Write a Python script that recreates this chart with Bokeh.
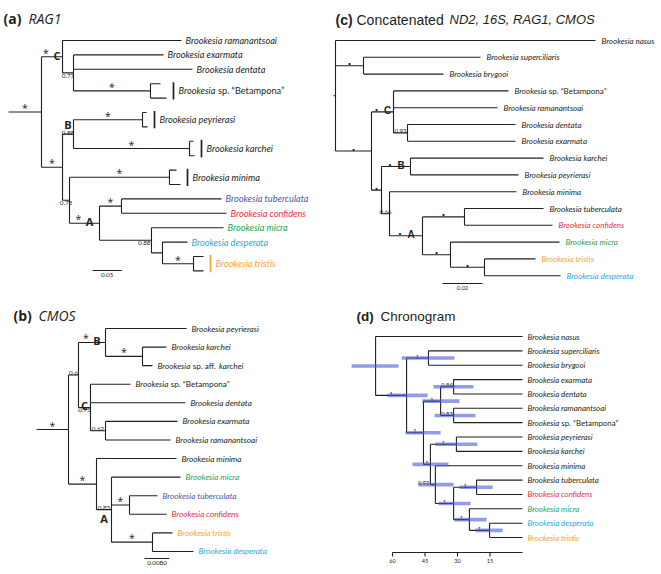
from bokeh.plotting import figure
from bokeh.models import Range1d
from bokeh.layouts import column, row
from bokeh.embed import file_html
from bokeh.resources import INLINE
from bokeh.core.properties import value

# ---------------- colours ----------------
BK = "#231f20"
TUB = "#4d58a6"
CON = "#e4303c"
MIC = "#1f9f58"
DES = "#27a9e1"
TRI = "#f4a33c"
HPD = "#4a5ad8"

TAXON = {
    "ram": "Brookesia ramanantsoai", "exa": "Brookesia exarmata", "den": "Brookesia dentata",
    "bet": "Brookesia|sp. \u201cBetampona\u201d", "pey": "Brookesia peyrierasi", "kar": "Brookesia karchei",
    "aff": "Brookesia|sp. aff.|karchei", "min": "Brookesia minima", "tub": "Brookesia tuberculata",
    "con": "Brookesia confidens", "mic": "Brookesia micra", "des": "Brookesia desperata",
    "tri": "Brookesia tristis", "nas": "Brookesia nasus", "sup": "Brookesia superciliaris",
    "bry": "Brookesia brygooi",
}

# ---------------- (a) RAG1 (substitutions / site) ----------------
A_NODE = ["r", "nC", "ram", "n077", "exa", "den", "nBet", "bet1", "bet2", "nX", "nB", "nPey", "pey1", "pey2",
          "nKar", "kar1", "kar2", "nY", "nMin", "min1", "min2", "nA", "nTC", "tub", "con", "nM", "mic",
          "nDT", "des", "nTri", "tri1", "tri2"]
A_PARENT = [None, "r", "nC", "nC", "n077", "n077", "n077", "nBet", "nBet", "r", "nX", "nB", "nPey", "nPey",
            "nB", "nKar", "nKar", "nX", "nY", "nMin", "nMin", "nY", "nA", "nTC", "nTC", "nA", "nM",
            "nM", "nDT", "nDT", "nTri", "nTri"]
A_DEPTH = [0.0563, 0.0922, 0.2952, 0.1109, 0.2645, 0.3140, 0.2423, 0.2594, 0.2696, 0.0922, 0.1109, 0.2287,
           0.2355, 0.2372, 0.3089, 0.3157, 0.3174, 0.1041, 0.2747, 0.2867, 0.2935, 0.1553, 0.1928, 0.3635,
           0.3720, 0.2440, 0.3669, 0.2628, 0.3055, 0.3157, 0.3328, 0.3328]
A_SUPPORT = {"r": "*", "nC": "*", "n077": "0.77", "nBet": "*", "nX": "*", "nB": "0.88", "nPey": "*",
             "nKar": "*", "nY": "0.78", "nMin": "*", "nA": "*", "nTC": "*", "nM": "0.88", "nTri": "*"}
A_SUPPOS = {"n077": "b", "nY": "b", "nM": "br"}
A_CLADE = {"nC": "C", "nB": "B", "nA": "A"}
A_CLADEPOS = {"nB": "aa"}
A_SCALE = 0.05
A_SCALE_LABEL = "0.05"

# ---------------- (b) CMOS ----------------
B_NODE = ["r", "nBC", "nB", "pey", "nK", "kar", "aff", "nC", "bet", "den", "n062", "exa", "ram", "nE", "min",
          "nA", "mic", "nTC", "tub", "con", "nTD", "tri", "des"]
B_PARENT = [None, "r", "nBC", "nB", "nB", "nK", "nK", "nBC", "nC", "nC", "nC", "n062", "n062", "r", "nE",
            "nE", "nA", "nA", "nTC", "nTC", "nA", "nTD", "nTD"]
B_DEPTH = [0.01024, 0.01344, 0.02208, 0.0480, 0.03392, 0.0416, 0.03712, 0.01728, 0.03008, 0.04768, 0.02208,
           0.04512, 0.04288, 0.0192, 0.0448, 0.0240, 0.04608, 0.02976, 0.03872, 0.0416, 0.03712, 0.04352,
           0.05024]
B_SUPPORT = {"r": "*", "nBC": "0.6", "nB": "*", "nK": "*", "nC": "0.75", "n062": "0.62", "nE": "*",
             "nA": "0.83", "nTC": "*", "nTD": "*"}
B_SUPPOS = {"nC": "b"}
B_CLADE = {"nB": "B", "nC": "C", "nA": "A"}
B_CLADEPOS = {"nA": "b"}
B_SCALE = 0.008
B_SCALE_LABEL = "0.0080"

# ---------------- (c) concatenated ----------------
C_NODE = ["r", "nas", "nSB", "sup", "bry", "nIn", "nC", "bet", "ram", "n093", "den", "exa", "nQ", "nB", "kar",
          "pey", "nR", "min", "nA", "nTC", "tub", "con", "nM", "mic", "nTD", "tri", "des"]
C_PARENT = [None, "r", "r", "nSB", "nSB", "r", "nIn", "nC", "nC", "nC", "n093", "n093", "nIn", "nQ", "nB",
            "nB", "nQ", "nR", "nR", "nA", "nTC", "nTC", "nA", "nM", "nM", "nTD", "nTD"]
C_DEPTH = [0.001, 0.131, 0.015, 0.0735, 0.055, 0.019, 0.030, 0.0875, 0.082, 0.037, 0.091, 0.091, 0.024,
           0.0385, 0.105, 0.0925, 0.028, 0.0915, 0.0445, 0.0655, 0.105, 0.1095, 0.0585, 0.113, 0.0755,
           0.101, 0.1135]
C_SUPPORT = {"nSB": "*", "nIn": "*", "nC": "*", "n093": "0.93", "nQ": "*", "nB": "*", "nR": "0.66",
             "nA": "*", "nTC": "*", "nM": "*", "nTD": "*"}
C_SUPPOS = {}
C_CLADE = {"nC": "C", "nB": "B", "nA": "A"}
C_CLADEPOS = {}
C_SCALE = 0.02
C_SCALE_LABEL = "0.02"

# ---------------- (d) chronogram (Ma) ----------------
D_NODE = ["r", "nas", "n1", "nSB", "sup", "bry", "n2", "n3", "n4", "exa", "den", "n5", "ram", "bet", "n6",
          "n7", "pey", "kar", "n8", "min", "n9", "n10", "tub", "con", "n11", "mic", "n12", "des", "tri"]
D_PARENT = [None, "r", "r", "n1", "nSB", "nSB", "n1", "n2", "n3", "n4", "n4", "n3", "n5", "n5", "n2",
            "n6", "n7", "n7", "n6", "n8", "n8", "n9", "n10", "n10", "n9", "n11", "n11", "n12", "n12"]
D_AGE = [67.8, 0, 53.5, 43.4, 0, 0, 45.7, 37.8, 31.8, 0, 0, 31.8, 0, 0, 42.5, 30.5, 0, 0, 40.2, 0, 31.8,
         21.2, 0, 0, 24.5, 0, 15.2, 0, 0]
D_HPD_NODE = ["r", "n1", "nSB", "n2", "n3", "n4", "n5", "n6", "n7", "n8", "n9", "n10", "n11", "n12"]
D_HPD_OLD = [78.9, 62.3, 55.8, 54.0, 46.2, 41.1, 40.6, 50.8, 40.2, 48.0, 38.8, 29.1, 31.4, 21.7]
D_HPD_YOUNG = [57.2, 43.8, 31.4, 37.8, 29.1, 22.6, 21.7, 34.2, 20.8, 31.8, 24.0, 13.8, 16.6, 9.2]
D_SUPPORT = {"n1": "1", "nSB": "1", "n2": "1", "n3": "1", "n4": "0.84", "n5": "0.83", "n6": "1", "n7": "1",
             "n8": "0.92", "n9": "1", "n10": "1", "n11": "1", "n12": "1"}
D_SUPPOS = {"n8": "al"}
D_TICKS = [60, 45, 30, 15]

# ---------------- layout (page pixels) ----------------
PANEL = {
    "a": dict(left=0, right=330, top=0, bottom=295, x0=8.0, sx=586.0, y0=40.0, sy=14.4),
    "c": dict(left=330, right=661, top=0, bottom=295, x0=333.0, sx=2000.0, y0=40.0, sy=16.8),
    "b": dict(left=0, right=330, top=295, bottom=574, x0=36.0, sx=3125.0, y0=328.0, sy=18.58),
    "d": dict(left=330, right=661, top=295, bottom=574, x0=522.0, sx=2.1667, y0=336.0, sy=14.36),
}
OPT = {
    "a": dict(tip_size=9.2, lab_dx=4, bar_dx=7, bar_lab=5, star="*", star_font="Open Sans", star_size=10.5,
              star_dy=-4, num_size=6.3, clade_font="Open Sans", clade_size=11,
              colors={"tub": TUB, "con": CON, "mic": MIC, "des": DES, "tri": TRI}),
    "b": dict(tip_size=8.2, lab_dx=5, bar_dx=7, bar_lab=5, star="*", star_font="Open Sans", star_size=10.5,
              star_dy=-4, num_size=6.3, clade_font="Open Sans", clade_size=11,
              colors={"tub": TUB, "con": CON, "mic": MIC, "des": DES, "tri": TRI}),
    "c": dict(tip_size=8.0, lab_dx=6, bar_dx=7, bar_lab=5, star="\u2022", star_font="Lato", star_size=6,
              star_dy=-2, num_size=6.2, clade_font="Liberation Sans", clade_size=10,
              colors={"con": CON, "mic": MIC, "des": DES, "tri": TRI}),
    "d": dict(tip_size=7.9, lab_dx=5, bar_dx=7, bar_lab=5, star="*", star_font="Open Sans", star_size=9,
              star_dy=-4, num_size=5.8, clade_font="Liberation Sans", clade_size=10,
              colors={"con": CON, "mic": MIC, "des": DES, "tri": TRI}),
}
TITLES = {
    "a": (18, [("(a)", 3, "bold", "Open Sans", 14), ("RAG1", 28, "italic", "Open Sans", 14)]),
    "b": (315, [("(b)", 13, "bold", "Open Sans", 14), ("CMOS", 38, "italic", "Open Sans", 14)]),
    "c": (19, [("(c)", 335, "bold", "Liberation Sans", 14), ("Concatenated", 356, "normal", "Liberation Sans", 14),
               ("ND2, 16S, RAG1, CMOS", 449, "italic", "Liberation Sans", 13)]),
    "d": (316, [("(d)", 356, "bold", "Liberation Sans", 13.5), ("Chronogram", 380, "normal", "Liberation Sans", 13.5)]),
}
SCALEPOS = {"a": (92, 270), "b": (144, 558), "c": (442, 283)}

CW = {"B": .63, "r": .37, "o": .56, "k": .50, "e": .52, "s": .42, "i": .24, "a": .50, " ": .20, "p": .55,
      ".": .23, "f": .31, "\u201c": .34, "\u201d": .34, "c": .46, "h": .55, "l": .24, "t": .34}


def est_w(s, size, italic):
    return sum(CW.get(ch, 0.52) for ch in s) * size * (0.95 if italic else 1.1)


def X(g, px):
    return (px - g["x0"]) / g["sx"]


def Y(g, py):
    return (py - g["y0"]) / g["sy"]


def make_fig(g):
    p = figure(width=g["right"] - g["left"], height=g["bottom"] - g["top"],
               x_range=Range1d(X(g, g["left"]), X(g, g["right"])),
               y_range=Range1d(Y(g, g["bottom"]), Y(g, g["top"])),
               output_backend="svg", toolbar_location=None, x_axis_type=None, y_axis_type=None,
               min_border=0, outline_line_color=None, background_fill_color="white",
               border_fill_color="white")
    p.grid.visible = False
    return p


def put(p, x, y, s, size, font="Lato", style="normal", color=BK, align="center", baseline="middle",
        dx=0, dy=0):
    p.text(x=[x], y=[y], text=[s], x_offset=dx, y_offset=dy, text_font=value(font),
           text_font_size=f"{size}px", text_font_style=style, text_color=color,
           text_align=align, text_baseline=baseline)


def base(n):
    return n.rstrip("0123456789")


def draw_tree(p, g, o, nodes, parents, depth, support, suppos, clade, cladepos, stem=True):
    par = dict(zip(nodes, parents))
    dep = dict(zip(nodes, depth))
    children = {n: [] for n in nodes}
    for n, pa in zip(nodes, parents):
        if pa is not None:
            children[pa].append(n)
    tips = [n for n in nodes if not children[n]]
    y = {t: i for i, t in enumerate(tips)}
    for n in reversed(nodes):
        if children[n]:
            ys = [y[c] for c in children[n]]
            y[n] = (min(ys) + max(ys)) / 2
    start = {}
    for n in nodes:
        pa = par[n]
        start[n] = dep[pa] if pa is not None else (0.0 if stem else dep[n])
    p.segment(x0=[start[n] for n in nodes], y0=[y[n] for n in nodes],
              x1=[dep[n] for n in nodes], y1=[y[n] for n in nodes], line_color=BK, line_width=1.1)
    inner = [n for n in nodes if children[n]]
    p.segment(x0=[dep[n] for n in inner], y0=[min(y[c] for c in children[n]) for n in inner],
              x1=[dep[n] for n in inner], y1=[max(y[c] for c in children[n]) for n in inner],
              line_color=BK, line_width=1.1)
    for n in nodes:
        mid = (start[n] + dep[n]) / 2
        s = support.get(n)
        let = clade.get(n)
        lpos = cladepos.get(n, "a")
        star_with_letter = (s == "*" and let is not None and lpos == "a")
        if s == "*":
            put(p, mid, y[n], o["star"], o["star_size"], font=o["star_font"], baseline="alphabetic",
                dx=(-6 if star_with_letter else 0), dy=o["star_dy"])
        elif s:
            pos = suppos.get(n, "a")
            if pos == "a":
                put(p, mid, y[n], s, o["num_size"], baseline="alphabetic", dy=-1.5)
            elif pos == "b":
                put(p, mid, y[n], s, o["num_size"], baseline="top", dy=1)
            elif pos == "br":
                put(p, dep[n], y[n], s, o["num_size"], align="right", baseline="top", dx=-1, dy=1)
            elif pos == "al":
                put(p, start[n], y[n], s, o["num_size"], align="right", baseline="alphabetic", dx=-1, dy=-1.5)
        if let:
            if lpos == "a":
                put(p, mid, y[n], let, o["clade_size"], font=o["clade_font"], style="bold",
                    baseline="alphabetic", dx=(5 if star_with_letter else 0), dy=-1.5)
            elif lpos == "aa":
                put(p, mid, y[n], let, o["clade_size"], font=o["clade_font"], style="bold",
                    baseline="alphabetic", dy=-9.5)
            else:
                put(p, mid, y[n], let, o["clade_size"], font=o["clade_font"], style="bold",
                    baseline="top", dy=1)
    groups = []
    for t in tips:
        k = base(t)
        if groups and groups[-1][0] == k:
            groups[-1][1].append(t)
        else:
            groups.append([k, [t]])
    for k, ts in groups:
        xm = max(dep[t] for t in ts)
        ys = [y[t] for t in ts]
        ym = (ys[0] + ys[-1]) / 2
        col = o["colors"].get(k, BK)
        if len(ts) > 1:
            xb = xm + o["bar_dx"] / g["sx"]
            p.segment(x0=[xb], y0=[ys[0] - 0.1], x1=[xb], y1=[ys[-1] + 0.1], line_color=col, line_width=1.7)
            xl, off = xb, o["bar_lab"]
        else:
            xl, off = xm, o["lab_dx"]
        parts = TAXON[k].split("|")
        size = o["tip_size"]
        for i, part in enumerate(parts):
            ital = (i % 2 == 0)
            put(p, xl, ym, part, size, style=("italic" if ital else "normal"), color=col,
                align="left", dx=off)
            off += est_w(part, size, ital) + CW[" "] * size
    return y


def draw_title(p, g, key):
    yy, segs = TITLES[key]
    for s, px, style, font, size in segs:
        put(p, X(g, px), Y(g, yy), s, size, font=font, style=style, align="left")


def draw_scale(p, g, key, length, label, size):
    px, py = SCALEPOS[key]
    x0 = X(g, px)
    yy = Y(g, py)
    p.segment(x0=[x0], y0=[yy], x1=[x0 + length], y1=[yy], line_color=BK, line_width=1.1)
    put(p, x0 + length / 2, yy, label, size, baseline="top", dy=2)


figs = {}
for key in ["a", "b", "c", "d"]:
    figs[key] = make_fig(PANEL[key])

g = PANEL["a"]; p = figs["a"]
draw_title(p, g, "a")
draw_tree(p, g, OPT["a"], A_NODE, A_PARENT, A_DEPTH, A_SUPPORT, A_SUPPOS, A_CLADE, A_CLADEPOS)
draw_scale(p, g, "a", A_SCALE, A_SCALE_LABEL, 6.3)

g = PANEL["b"]; p = figs["b"]
draw_title(p, g, "b")
draw_tree(p, g, OPT["b"], B_NODE, B_PARENT, B_DEPTH, B_SUPPORT, B_SUPPOS, B_CLADE, B_CLADEPOS)
draw_scale(p, g, "b", B_SCALE, B_SCALE_LABEL, 6.3)

g = PANEL["c"]; p = figs["c"]
draw_title(p, g, "c")
draw_tree(p, g, OPT["c"], C_NODE, C_PARENT, C_DEPTH, C_SUPPORT, C_SUPPOS, C_CLADE, C_CLADEPOS)
draw_scale(p, g, "c", C_SCALE, C_SCALE_LABEL, 5.8)

g = PANEL["d"]; p = figs["d"]
draw_title(p, g, "d")
d_x = [-a for a in D_AGE]
yd = draw_tree(p, g, OPT["d"], D_NODE, D_PARENT, d_x, D_SUPPORT, D_SUPPOS, {}, {}, stem=False)
p.segment(x0=[-a for a in D_HPD_OLD], x1=[-a for a in D_HPD_YOUNG],
          y0=[yd[n] for n in D_HPD_NODE], y1=[yd[n] for n in D_HPD_NODE],
          line_color=HPD, line_alpha=0.6, line_width=3.6)
n_tips = sum(1 for a in D_AGE if a == 0)
ax_y = n_tips - 1 + 15.0 / g["sy"]
p.segment(x0=[-max(D_TICKS)], y0=[ax_y], x1=[0], y1=[ax_y], line_color=BK, line_width=1.1)
p.segment(x0=[-t for t in D_TICKS], y0=[ax_y] * len(D_TICKS), x1=[-t for t in D_TICKS],
          y1=[ax_y + 4 / g["sy"]] * len(D_TICKS), line_color=BK, line_width=1.1)
for t in D_TICKS:
    put(p, -t, ax_y, str(t), 5.5, baseline="top", dy=6)

layout = column(row(figs["a"], figs["c"]), row(figs["b"], figs["d"]))
open("out.html", "w").write(file_html(layout, INLINE))
